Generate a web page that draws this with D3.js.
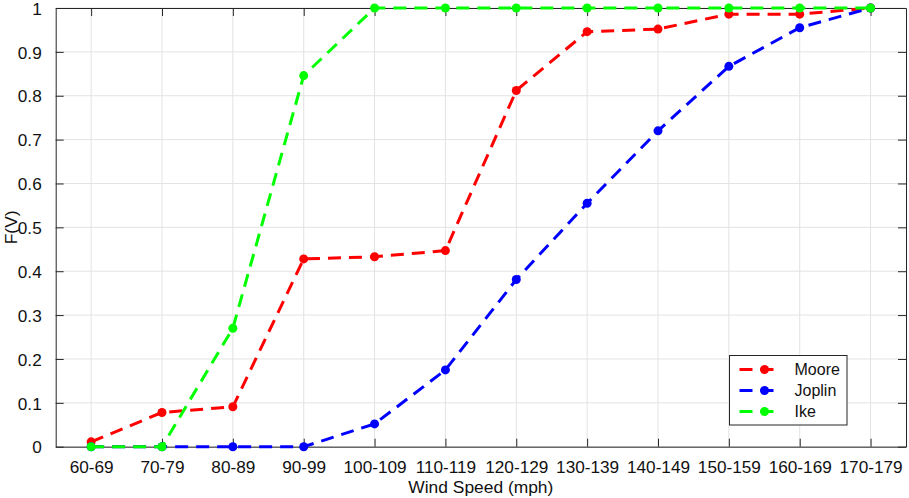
<!DOCTYPE html>
<html>
<head>
<meta charset="utf-8">
<script src="https://cdn.jsdelivr.net/npm/d3@7"></script>
<style>
  body { margin: 0; background: #fff; }
  svg { display: block; font-family: "Liberation Sans", Arial, sans-serif; }
</style>
</head>
<body>
<div id="chart"></div>
<script>
// categories and series
const categories = ["60-69", "70-79", "80-89", "90-99", "100-109", "110-119",
  "120-129", "130-139", "140-149", "150-159", "160-169", "170-179"];
const moore = [0.011, 0.078, 0.091, 0.428, 0.433, 0.447, 0.812, 0.946, 0.952, 0.986, 0.986, 1];
const joplin = [0, 0, 0, 0, 0.052, 0.175, 0.381, 0.555, 0.72, 0.867, 0.955, 1];
const ike = [0, 0, 0.27, 0.846, 1, 1, 1, 1, 1, 1, 1, 1];
const seriesNames = ["Moore", "Joplin", "Ike"];
const seriesColors = ["#ff0000", "#0000ff", "#00ff00"];
const yTicks = d3.range(0, 1.0001, 0.1);

const width = 909, height = 498;
const plotLeft = 55.7, plotRight = 906, plotTop = 8, plotBottom = 446.7;

const x = d3.scalePoint().domain(categories).range([plotLeft, plotRight]).padding(0.5);
const y = d3.scaleLinear().domain([0, 1]).range([plotBottom, plotTop]);

const svg = d3.select("#chart").append("svg")
  .attr("width", width)
  .attr("height", height);

// grid
const grid = svg.append("g").attr("stroke", "#e3e3e3").attr("stroke-width", 1);
grid.selectAll("line.v").data(categories).join("line")
  .attr("class", "v")
  .attr("x1", d => x(d)).attr("x2", d => x(d))
  .attr("y1", plotTop).attr("y2", plotBottom);
grid.selectAll("line.h").data(yTicks).join("line")
  .attr("class", "h")
  .attr("x1", plotLeft).attr("x2", plotRight)
  .attr("y1", d => y(d)).attr("y2", d => y(d));

// axes (MATLAB style box with inward ticks)
const tickLen = 8;
const fmt = d => d === 0 ? "0" : d >= 0.9999 ? "1" : d3.format(".1f")(d);

const xAxis = svg.append("g")
  .attr("transform", `translate(0,${plotBottom})`)
  .call(d3.axisBottom(x).tickSizeInner(-tickLen).tickSizeOuter(0).tickPadding(14));
const xAxisTop = svg.append("g")
  .attr("transform", `translate(0,${plotTop})`)
  .call(d3.axisTop(x).tickSizeInner(-tickLen).tickSizeOuter(0).tickFormat(""));
const yAxis = svg.append("g")
  .attr("transform", `translate(${plotLeft},0)`)
  .call(d3.axisLeft(y).tickValues(yTicks).tickFormat(fmt).tickSizeInner(-tickLen).tickSizeOuter(0).tickPadding(14));
const yAxisRight = svg.append("g")
  .attr("transform", `translate(${plotRight},0)`)
  .call(d3.axisRight(y).tickValues(yTicks).tickFormat("").tickSizeInner(-tickLen).tickSizeOuter(0));

[xAxis, xAxisTop, yAxis, yAxisRight].forEach(a => {
  a.select(".domain").attr("stroke", "#262626").attr("stroke-width", 1);
  a.selectAll(".tick line").attr("stroke", "#262626");
  a.selectAll(".tick text").attr("fill", "#111").style("font-size", "17.2px")
    .style("font-family", "'Liberation Sans', Arial, sans-serif");
});
yAxis.selectAll(".tick text").attr("dy", "0.36em");

// axis labels
svg.append("text")
  .attr("x", (plotLeft + plotRight) / 2).attr("y", 493)
  .attr("text-anchor", "middle")
  .style("font-size", "17.4px").attr("fill", "#111")
  .text("Wind Speed (mph)");
svg.append("text")
  .attr("transform", `translate(17,${(plotTop + plotBottom) / 2}) rotate(-90)`)
  .attr("text-anchor", "middle")
  .style("font-size", "17.4px").attr("fill", "#111")
  .text("F(V)");

// series
const allSeries = [moore, joplin, ike];
const line = d3.line().x((d, i) => x(categories[i])).y(d => y(d));

allSeries.forEach((vals, s) => {
  const g = svg.append("g");
  g.append("path")
    .datum(vals)
    .attr("d", line)
    .attr("fill", "none")
    .attr("stroke", seriesColors[s])
    .attr("stroke-width", 3)
    .attr("stroke-dasharray", "13,8");
  g.selectAll("circle").data(vals).join("circle")
    .attr("cx", (d, i) => x(categories[i]))
    .attr("cy", d => y(d))
    .attr("r", 4.5)
    .attr("fill", seriesColors[s]);
});

// legend
const legend = svg.append("g").attr("transform", "translate(729.5,355.5)");
legend.append("rect")
  .attr("width", 117.5).attr("height", 69.5)
  .attr("fill", "#fff").attr("stroke", "#262626").attr("stroke-width", 1);
seriesNames.forEach((name, i) => {
  const yy = 14 + i * 21;
  const row = legend.append("g").attr("transform", `translate(0,${yy})`);
  row.append("line")
    .attr("x1", 10).attr("x2", 48).attr("y1", 0).attr("y2", 0)
    .attr("stroke", seriesColors[i]).attr("stroke-width", 3)
    .attr("stroke-dasharray", "13,8");
  row.append("circle").attr("cx", 35).attr("cy", 0).attr("r", 4.5).attr("fill", seriesColors[i]);
  row.append("text")
    .attr("x", 65).attr("y", 0).attr("dy", "0.36em")
    .style("font-size", "16px").attr("fill", "#111")
    .text(name);
});
</script>
</body>
</html>
